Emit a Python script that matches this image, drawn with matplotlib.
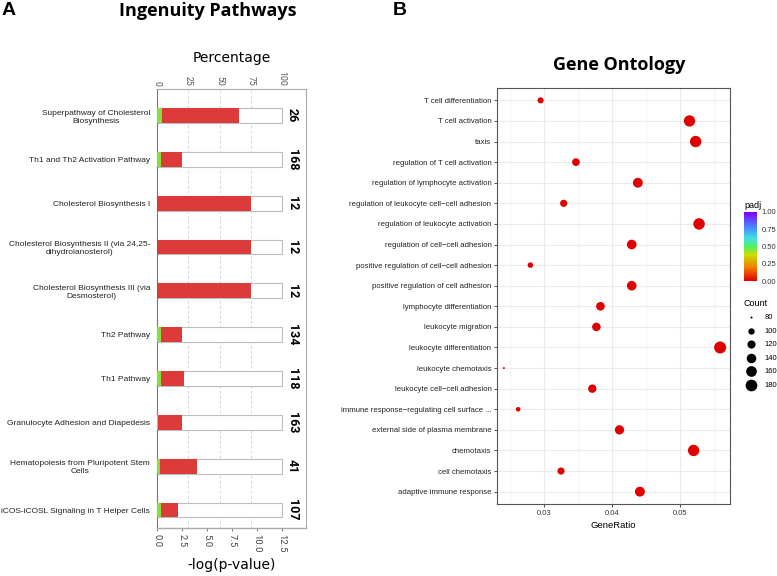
import matplotlib
matplotlib.use("Agg")
import matplotlib.pyplot as plt
from matplotlib.colors import LinearSegmentedColormap

# ---- panel A : Ingenuity pathways ----
pathways = [
    "Superpathway of Cholesterol\nBiosynthesis",
    "Th1 and Th2 Activation Pathway",
    "Cholesterol Biosynthesis I",
    "Cholesterol Biosynthesis II (via 24,25-\ndihydrolanosterol)",
    "Cholesterol Biosynthesis III (via\nDesmosterol)",
    "Th2 Pathway",
    "Th1 Pathway",
    "Granulocyte Adhesion and Diapedesis",
    "Hematopoiesis from Pluripotent Stem\nCells",
    "iCOS-iCOSL Signaling in T Helper Cells",
]
pct_down = [3.8, 3.0, 0.0, 0.0, 0.0, 3.0, 3.4, 0.6, 2.4, 2.8]
pct_up = [61.5, 17.3, 75.0, 75.0, 75.0, 17.2, 17.8, 19.0, 29.3, 14.0]
n_genes = [26, 168, 12, 12, 12, 134, 118, 163, 41, 107]
pct_ticks = [0, 25, 50, 75, 100]
logp_ticks = [0.0, 2.5, 5.0, 7.5, 10.0, 12.5]

# ---- panel B : Gene Ontology ----
go_terms = [
    "T cell differentiation",
    "T cell activation",
    "taxis",
    "regulation of T cell activation",
    "regulation of lymphocyte activation",
    "regulation of leukocyte cell\u2212cell adhesion",
    "regulation of leukocyte activation",
    "regulation of cell\u2212cell adhesion",
    "positive regulation of cell\u2212cell adhesion",
    "positive regulation of cell adhesion",
    "lymphocyte differentiation",
    "leukocyte migration",
    "leukocyte differentiation",
    "leukocyte chemotaxis",
    "leukocyte cell\u2212cell adhesion",
    "immune response\u2212regulating cell surface ...",
    "external side of plasma membrane",
    "chemotaxis",
    "cell chemotaxis",
    "adaptive immune response",
]
gene_ratio = [0.0295, 0.0514, 0.0523, 0.0347, 0.0438, 0.0329, 0.0528, 0.0429,
              0.0280, 0.0429, 0.0383, 0.0377, 0.0559, 0.0241, 0.0371, 0.0262,
              0.0411, 0.0520, 0.0325, 0.0441]
counts = [98, 171, 174, 115, 145, 109, 175, 142, 93, 142,
          127, 125, 186, 80, 123, 87, 136, 173, 108, 146]
padj = [0.001, 0.0, 0.0, 0.001, 0.0, 0.001, 0.0, 0.0, 0.002, 0.0,
        0.0, 0.0, 0.0, 0.003, 0.0, 0.002, 0.0, 0.0, 0.001, 0.0]
legend_counts = [80, 100, 120, 140, 160, 180]
padj_ticks = [0.0, 0.25, 0.5, 0.75, 1.0]

W, H = 777, 576
fig = plt.figure(figsize=(W / 100, H / 100), dpi=100)


def fbox(x0, y0, x1, y1):
    return [x0 / W, 1 - y1 / H, (x1 - x0) / W, (y1 - y0) / H]


def dot_size(c):
    # marker area (pt^2) from count, ggplot-like sqrt scaling
    d_px = 2 + 10 * ((c - 80) / (186 - 80)) ** 0.5
    return (d_px * 72 / 100) ** 2


# ---------- A ----------
ax = fig.add_axes(fbox(157, 89, 306, 528))
y = list(range(len(pathways)))
ax.barh(y, [100] * len(y), height=0.34, color="white", edgecolor="#BDBDBD", lw=0.8, zorder=2)
ax.barh(y, pct_down, height=0.34, color="#86E03E", lw=0, zorder=3)
ax.barh(y, pct_up, left=pct_down, height=0.34, color="#DD3A3A", lw=0, zorder=3)
for yi, n in zip(y, n_genes):
    ax.text(108, yi, str(n), rotation=270, ha="center", va="center",
            fontsize=9, fontweight="bold", family="Roboto")
ax.set_xlim(0, 119.2)
ax.set_ylim(9.41, -0.605)
ax.set_yticks(y)
ax.set_yticklabels(pathways, fontsize=6.0, family="Liberation Sans", color="#222222")
for t in ax.get_yticklabels():
    t.set_multialignment("center")
ax.tick_params(axis="y", length=0, pad=5)
ax.xaxis.tick_top()
ax.set_xticks(pct_ticks)
ax.set_xticklabels([str(v) for v in pct_ticks], rotation=270, fontsize=6.3, color="#555555", family="Roboto")
ax.tick_params(axis="x", length=0, pad=2)
ax.xaxis.set_label_position("top")
ax.set_xlabel("Percentage", fontsize=10, labelpad=7)
for v in pct_ticks[1:4]:
    ax.axvline(v, color="#CCCCCC", lw=0.6, ls=(0, (3, 3)), zorder=1)
for s in ax.spines.values():
    s.set_color("#AAAAAA")
    s.set_linewidth(0.8)
ax.spines["left"].set_color("#777777")

sec = ax.secondary_xaxis("bottom", functions=(lambda p: p * 0.125, lambda v: v / 0.125))
sec.set_xticks(logp_ticks)
sec.set_xticklabels([f"{v:.1f}" for v in logp_ticks], rotation=270, fontsize=6.8, color="#444444", family="Roboto")
sec.tick_params(length=2.5, color="#888888", pad=1.5)
sec.set_xlabel("-log(p-value)", fontsize=10, labelpad=4)

fig.text(2 / W, 1 - 2 / H, "A", fontsize=14, fontweight="bold", ha="left", va="top", family="Liberation Sans")
fig.text(208 / W, 1 - 11 / H, "Ingenuity Pathways", fontsize=13, fontweight="bold", ha="center", va="center", family="Open Sans")

# ---------- B ----------
rainbow = LinearSegmentedColormap.from_list(
    "padj_rainbow",
    [(0.0, "#E00000"), (0.2, "#F08000"), (0.38, "#C8E000"), (0.5, "#50F060"),
     (0.62, "#40E0E8"), (0.8, "#4A7CFF"), (1.0, "#8000FF")])

bx = fig.add_axes(fbox(497, 88, 730, 504))
yb = list(range(len(go_terms)))
sc = bx.scatter(gene_ratio, yb, s=[dot_size(c) for c in counts], c=padj,
                cmap=rainbow, vmin=0, vmax=1, lw=0, zorder=3)
bx.set_xlim(0.02309, 0.05735)
bx.set_ylim(19.6, -0.6)
bx.set_yticks(yb)
bx.set_yticklabels(go_terms, fontsize=5.6, family="Liberation Sans", color="#222222")
bx.set_xticks([0.03, 0.04, 0.05])
bx.set_xticklabels(["0.03", "0.04", "0.05"], fontsize=5.5, family="Liberation Sans", color="#333333")
bx.set_xticks([0.025, 0.035, 0.045, 0.055], minor=True)
bx.tick_params(which="major", length=2.5, width=0.6, color="#333333", pad=1.5)
bx.tick_params(which="minor", length=0)
bx.grid(which="major", color="#EBEBEB", lw=0.8, zorder=0)
bx.grid(which="minor", axis="x", color="#F2F2F2", lw=0.5, zorder=0)
bx.set_axisbelow(True)
for s in bx.spines.values():
    s.set_color("#555555")
    s.set_linewidth(0.8)
bx.set_xlabel("GeneRatio", fontsize=6.8, family="Liberation Sans", labelpad=3)

fig.text(393 / W, 1 - 2 / H, "B", fontsize=14, fontweight="bold", ha="left", va="top", family="Liberation Sans")
fig.text(619 / W, 1 - 65 / H, "Gene Ontology", fontsize=13, fontweight="bold", ha="center", va="center", family="Open Sans")

# colour bar
cax = fig.add_axes(fbox(744, 212, 757, 281))
cb = fig.colorbar(sc, cax=cax, ticks=padj_ticks)
cb.outline.set_visible(False)
cb.ax.set_yticklabels([f"{v:.2f}" for v in padj_ticks], fontsize=5.5, family="Liberation Sans", color="#333333")
cb.ax.tick_params(length=2, color="white", pad=1.5)
cax.set_title("padj", loc="left", fontsize=6.5, family="Liberation Sans", pad=3)

# size legend
handles = [bx.scatter([], [], s=dot_size(c), color="black", lw=0) for c in legend_counts]
leg = fig.legend(handles, [str(c) for c in legend_counts], title="Count",
                 loc="upper left", bbox_to_anchor=(740 / W, 1 - 295 / H),
                 frameon=False, fontsize=5.5, title_fontsize=6.5,
                 labelspacing=0.8, handletextpad=0.7, borderpad=0, alignment="left")
for t in leg.get_texts():
    t.set_family("Liberation Sans")
leg.get_title().set_family("Liberation Sans")

fig.savefig("out.png", dpi=100)
